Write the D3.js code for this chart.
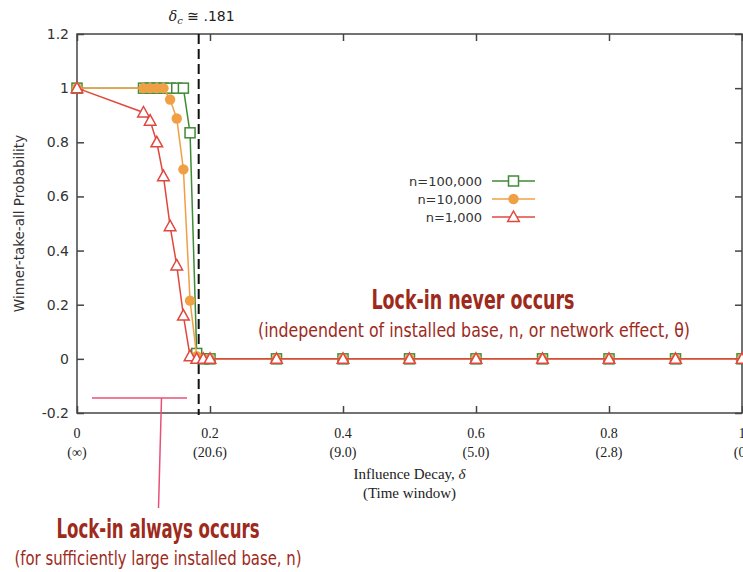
<!DOCTYPE html>
<html><head><meta charset="utf-8">
<script src="https://cdn.jsdelivr.net/npm/d3@7"></script>
<style>html,body{margin:0;padding:0;background:#fff;overflow:hidden}</style>
</head><body>
<svg id="c" width="743" height="572"></svg>
<script>
// ---- data ----
const deltas = [0, 0.10, 0.11, 0.12, 0.13, 0.14, 0.15, 0.16, 0.17, 0.18, 0.19, 0.20, 0.3, 0.4, 0.5, 0.6, 0.7, 0.8, 0.9, 1.0];
const n100000 = [1, 1, 1, 1, 1, 1, 1, 1, 0.835, 0.02, 0, 0, 0, 0, 0, 0, 0, 0, 0, 0];
const n10000  = [1, 1, 1, 1, 1, 0.958, 0.888, 0.70, 0.215, 0.01, 0, 0, 0, 0, 0, 0, 0, 0, 0, 0];
const n1000   = [1, 0.91, 0.88, 0.80, 0.675, 0.49, 0.345, 0.16, 0.01, 0, 0, 0, 0, 0, 0, 0, 0, 0, 0, 0];
const seriesNames = ["n=100,000", "n=10,000", "n=1,000"];
const yTicks = [-0.2, 0, 0.2, 0.4, 0.6, 0.8, 1, 1.2];
const yTickLabels = ["-0.2", "0", "0.2", "0.4", "0.6", "0.8", "1", "1.2"];
const xTicks = [0, 0.2, 0.4, 0.6, 0.8, 1];
const xTickLabels = ["0", "0.2", "0.4", "0.6", "0.8", "1"];
const xTickSub = ["(\u221E)", "(20.6)", "(9.0)", "(5.0)", "(2.8)", "(0)"];
const deltaC = 0.183;

const svg = d3.select("#c");
const L = 77, R = 742, T = 34, B = 413;
const x = d3.scaleLinear().domain([0, 1]).range([L, R]);
const y = d3.scaleLinear().domain([-0.2, 1.2]).range([B, T]);

const frameCol = "#444";
// frame
svg.append("rect").attr("x", L).attr("y", T).attr("width", R - L).attr("height", B - T)
  .attr("fill", "none").attr("stroke", frameCol).attr("stroke-width", 1.5);

// axes with inward ticks
const yl = svg.append("g").attr("transform", `translate(${L},0)`)
  .call(d3.axisRight(y).tickValues(yTicks).tickSize(7).tickFormat(""));
const yr = svg.append("g").attr("transform", `translate(${R},0)`)
  .call(d3.axisLeft(y).tickValues(yTicks).tickSize(7).tickFormat(""));
const xb = svg.append("g").attr("transform", `translate(0,${B})`)
  .call(d3.axisTop(x).tickValues(xTicks).tickSize(7).tickFormat(""));
const xt = svg.append("g").attr("transform", `translate(0,${T})`)
  .call(d3.axisBottom(x).tickValues(xTicks).tickSize(7).tickFormat(""));
[yl, yr, xb, xt].forEach(g => {
  g.select(".domain").remove();
  g.selectAll("line").attr("stroke", frameCol).attr("stroke-width", 1.5);
});

// y tick labels
svg.append("g").selectAll("text").data(yTicks).join("text")
  .attr("x", 69).attr("y", d => y(d)).attr("dy", "0.36em")
  .attr("text-anchor", "end")
  .attr("font-family", "DejaVu Sans, Verdana, sans-serif").attr("font-size", 14)
  .attr("fill", "#333")
  .text((d, i) => yTickLabels[i]);

// x tick labels (serif)
const xl = svg.append("g").attr("font-family", "Liberation Serif, Times New Roman, serif")
  .attr("font-size", 14).attr("fill", "#222").attr("text-anchor", "middle");
xl.selectAll("text.a").data(xTicks).join("text").attr("class", "a")
  .attr("x", d => x(d)).attr("y", 438).text((d, i) => xTickLabels[i]);
xl.selectAll("text.b").data(xTicks).join("text").attr("class", "b")
  .attr("x", d => x(d)).attr("y", 457).text((d, i) => xTickSub[i]);

// axis titles
const xtitle = svg.append("text").attr("x", (L + R) / 2).attr("y", 479)
  .attr("text-anchor", "middle").attr("font-family", "Liberation Serif, serif")
  .attr("font-size", 15).attr("fill", "#222");
xtitle.append("tspan").text("Influence Decay, ");
xtitle.append("tspan").attr("font-style", "italic").text("\u03B4");
svg.append("text").attr("x", (L + R) / 2).attr("y", 498)
  .attr("text-anchor", "middle").attr("font-family", "Liberation Serif, serif")
  .attr("font-size", 15).attr("fill", "#222").text("(Time window)");

svg.append("text").attr("transform", `translate(24,${(T + B) / 2}) rotate(-90)`)
  .attr("text-anchor", "middle").attr("font-family", "DejaVu Sans, Verdana, sans-serif")
  .attr("font-size", 13.5).attr("fill", "#333").text("Winner-take-all Probability");

// critical delta dashed line
svg.append("line").attr("x1", x(deltaC)).attr("x2", x(deltaC)).attr("y1", T).attr("y2", B + 2)
  .attr("stroke", "#111").attr("stroke-width", 2).attr("stroke-dasharray", "10,5");
const dc = svg.append("text").attr("x", x(deltaC) + 3).attr("y", 21).attr("text-anchor", "middle")
  .attr("font-family", "DejaVu Serif, serif").attr("font-size", 14).attr("fill", "#222");
dc.append("tspan").attr("font-style", "italic").text("\u03B4");
dc.append("tspan").attr("font-style", "italic").attr("font-size", 10).attr("dy", 3).text("c");
dc.append("tspan").attr("dy", -3).attr("font-family", "DejaVu Sans, sans-serif").text(" \u2245 .181");

// series
const series = [
  {name: seriesNames[0], vals: n100000, color: "#3f8a35", shape: "square"},
  {name: seriesNames[1], vals: n10000, color: "#efa045", shape: "circle"},
  {name: seriesNames[2], vals: n1000, color: "#e0473f", shape: "triangle"}
];
const line = d3.line().x(d => x(d[0])).y(d => y(d[1]));

function drawMarker(g, shape, color, cx, cy) {
  if (shape === "square") {
    g.append("rect").attr("x", cx - 5).attr("y", cy - 5).attr("width", 10).attr("height", 10)
      .attr("fill", "#fff").attr("stroke", color).attr("stroke-width", 1.5);
  } else if (shape === "circle") {
    g.append("circle").attr("cx", cx).attr("cy", cy).attr("r", 5.2).attr("fill", color);
  } else {
    g.append("path").attr("d", `M${cx},${cy - 6}L${cx + 5.8},${cy + 4.5}L${cx - 5.8},${cy + 4.5}Z`)
      .attr("fill", "#fff").attr("stroke", color).attr("stroke-width", 1.5);
  }
}

series.forEach(s => {
  const pts = deltas.map((d, i) => [d, s.vals[i]]);
  const g = svg.append("g");
  g.append("path").attr("d", line(pts)).attr("fill", "none").attr("stroke", s.color).attr("stroke-width", 1.5);
  pts.forEach(p => drawMarker(g, s.shape, s.color, x(p[0]), y(p[1])));
});

// legend
const legY = [181, 199, 217];
series.forEach((s, i) => {
  const g = svg.append("g");
  g.append("text").attr("x", 482).attr("y", legY[i]).attr("dy", "0.35em").attr("text-anchor", "end")
    .attr("font-family", "DejaVu Sans, Verdana, sans-serif").attr("font-size", 13).attr("fill", "#333")
    .text(s.name);
  g.append("line").attr("x1", 492).attr("x2", 535).attr("y1", legY[i]).attr("y2", legY[i])
    .attr("stroke", s.color).attr("stroke-width", 1.5);
  drawMarker(g, s.shape, s.color, 513.5, legY[i]);
});

// annotations
const annCol = "#9e2a1b";
const annFont = "Liberation Sans Narrow, DejaVu Sans Condensed, Arial Narrow, sans-serif";
function ann(txt, cx, base, size, len, weight) {
  svg.append("text").attr("x", cx - len / 2).attr("y", base)
    .attr("font-family", annFont).attr("font-size", size).attr("font-weight", weight).attr("fill", annCol)
    .attr("textLength", len).attr("lengthAdjust", "spacingAndGlyphs").text(txt);
}
ann("Lock-in never occurs", 473, 309, 27, 203, "bold");
ann("(independent of installed base, n, or network effect, \u03B8)", 474, 337, 20, 432, "normal");
ann("Lock-in always occurs", 158, 538, 27, 203, "bold");
ann("(for sufficiently large installed base, n)", 158, 565, 20, 287, "normal");

// pink pointer
const pink = "#e8507a";
svg.append("line").attr("x1", 92).attr("x2", 187).attr("y1", 398).attr("y2", 398)
  .attr("stroke", pink).attr("stroke-width", 1.5);
svg.append("line").attr("x1", 161.5).attr("x2", 158.5).attr("y1", 398).attr("y2", 508)
  .attr("stroke", pink).attr("stroke-width", 1.5);
</script>
</body></html>
